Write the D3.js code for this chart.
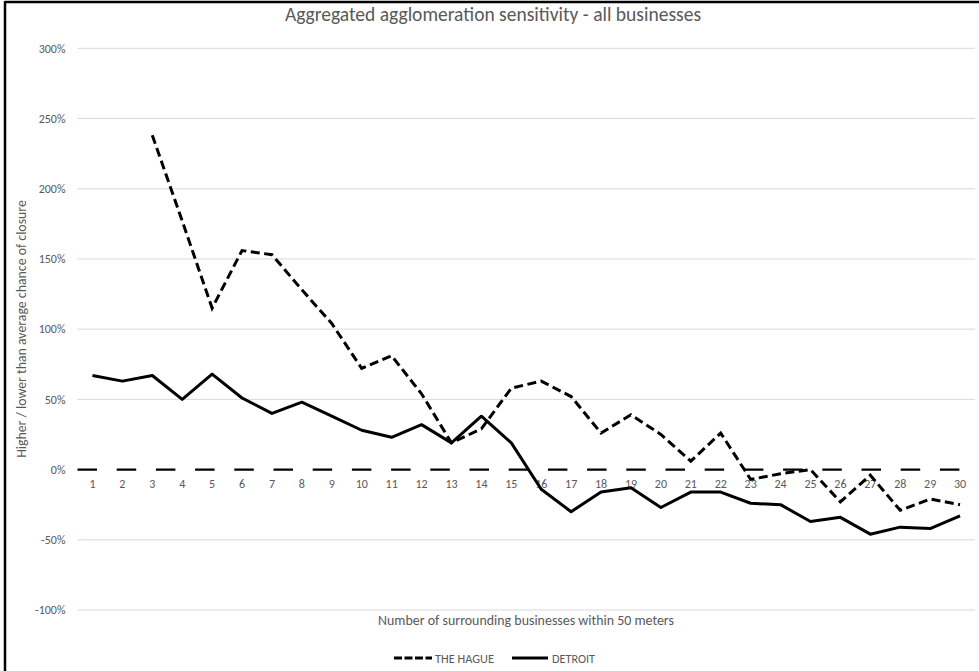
<!DOCTYPE html>
<html>
<head>
<meta charset="utf-8">
<script src="https://cdn.jsdelivr.net/npm/d3@7"></script>
<style>
  html, body { margin: 0; padding: 0; background: #fff; }
  svg { display: block; }
  text { font-family: Carlito, Calibri, Lato, "Open Sans", sans-serif; fill: #595959; }
</style>
</head>
<body>
<svg id="chart" width="979" height="671"></svg>
<script>
// Number of surrounding businesses (category axis)
const categories = [1,2,3,4,5,6,7,8,9,10,11,12,13,14,15,16,17,18,19,20,21,22,23,24,25,26,27,28,29,30];

// Higher / lower than average chance of closure, in percent
const theHague = [null, null, 238, 177, 115, 156, 153, 128, 104, 72, 81, 54, 19, 29, 58, 63, 52, 26, 39, 25, 6, 26, -7, -3, 0, -23, -4, -29, -21, -25];
const detroit  = [67, 63, 67, 50, 68, 51, 40, 48, 38, 28, 23, 32, 19, 38, 19, -14, -30, -16, -13, -27, -16, -16, -24, -25, -37, -34, -46, -41, -42, -33];

const yTicks = [-100, -50, 0, 50, 100, 150, 200, 250, 300];
const seriesNames = ["THE HAGUE", "DETROIT"];

const title = "Aggregated agglomeration sensitivity - all businesses";
const xTitle = "Number of surrounding businesses within 50 meters";
const yTitle = "Higher / lower than average chance of closure";

const svg = d3.select("#chart");

// chart frame (top and left edges visible)
svg.append("line").attr("x1", 5).attr("x2", 979).attr("y1", 2).attr("y2", 2)
  .attr("stroke", "#000").attr("stroke-width", 2.5);
svg.append("line").attr("x1", 5).attr("x2", 5).attr("y1", 1).attr("y2", 671)
  .attr("stroke", "#000").attr("stroke-width", 2.5);

const plot = { left: 77.5, right: 975, top: 48.3, bottom: 610 };

const x = d3.scaleBand().domain(categories).range([plot.left, plot.right]).padding(0);
const cx = c => x(c) + x.bandwidth() / 2;
const y = d3.scaleLinear().domain([-100, 300]).range([plot.bottom, plot.top]);

// scale a text's font size so it spans a given width
function fitWidth(sel, width, base) {
  sel.attr("font-size", base);
  const w = sel.node().getComputedTextLength();
  if (w > 0) sel.attr("font-size", base * width / w);
  return sel;
}

// gridlines
svg.append("g").selectAll("line")
  .data(yTicks.filter(t => t !== 0))
  .join("line")
  .attr("x1", plot.left).attr("x2", plot.right)
  .attr("y1", d => y(d)).attr("y2", d => y(d))
  .attr("stroke", "#d9d9d9").attr("stroke-width", 1);

// value axis labels
const yAxis = d3.axisLeft(y).tickValues(yTicks).tickFormat(d => d + "%").tickSize(0).tickPadding(12);
const yg = svg.append("g").attr("transform", `translate(${plot.left},0)`).call(yAxis);
yg.select(".domain").remove();
yg.selectAll("text").attr("font-size", 12).attr("fill", "#595959")
  .style("font-family", null);

// category axis line at 0%, long dashes
svg.append("line")
  .attr("x1", plot.left).attr("x2", plot.right)
  .attr("y1", y(0)).attr("y2", y(0))
  .attr("stroke", "#000").attr("stroke-width", 2.4)
  .attr("stroke-dasharray", "19.5,19.7");

// category labels
const xAxis = d3.axisBottom(x).tickSize(0).tickPadding(10);
const xg = svg.append("g").attr("transform", `translate(0,${y(0)})`).call(xAxis);
xg.select(".domain").remove();
xg.selectAll("text").attr("font-size", 12).attr("fill", "#595959")
  .style("font-family", null);

// series lines
const line = d3.line()
  .defined(d => d.v !== null)
  .x(d => cx(d.c))
  .y(d => y(d.v));

const hagueData = categories.map((c, i) => ({ c, v: theHague[i] }));
const detroitData = categories.map((c, i) => ({ c, v: detroit[i] }));

svg.append("path").datum(detroitData)
  .attr("d", line).attr("fill", "none")
  .attr("stroke", "#000").attr("stroke-width", 3)
  .attr("stroke-linejoin", "round");

svg.append("path").datum(hagueData)
  .attr("d", line).attr("fill", "none")
  .attr("stroke", "#000").attr("stroke-width", 3)
  .attr("stroke-dasharray", "9,4.5");

// title
fitWidth(svg.append("text")
  .attr("x", 493).attr("y", 21)
  .attr("text-anchor", "middle")
  .text(title), 416, 18.7);

// axis titles
fitWidth(svg.append("text")
  .attr("x", 526).attr("y", 625)
  .attr("text-anchor", "middle")
  .text(xTitle), 296, 13.3);

fitWidth(svg.append("text")
  .attr("transform", "translate(26,329) rotate(-90)")
  .attr("text-anchor", "middle")
  .text(yTitle), 258, 13.3);

// legend
const legendY = 658;
const lg = svg.append("g");
lg.append("line").attr("x1", 394).attr("x2", 432).attr("y1", legendY).attr("y2", legendY)
  .attr("stroke", "#000").attr("stroke-width", 3).attr("stroke-dasharray", "8,2.5");
fitWidth(lg.append("text").attr("x", 435).attr("y", legendY + 4.5).text(seriesNames[0]), 59, 12);
lg.append("line").attr("x1", 512).attr("x2", 548).attr("y1", legendY).attr("y2", legendY)
  .attr("stroke", "#000").attr("stroke-width", 3);
fitWidth(lg.append("text").attr("x", 552).attr("y", legendY + 4.5).text(seriesNames[1]), 43, 12);
</script>
</body>
</html>
